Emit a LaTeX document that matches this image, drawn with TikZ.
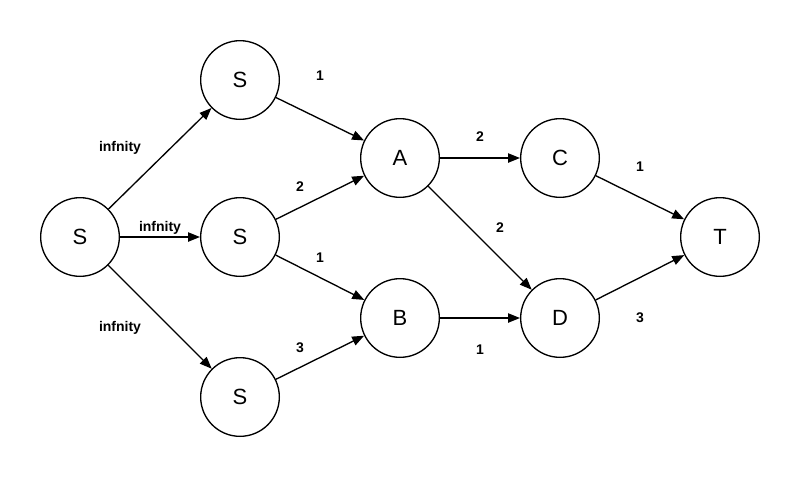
\documentclass[tikz,border=0pt]{standalone}
\usepackage{fontspec}
\setmainfont{Liberation Sans}
\usetikzlibrary{arrows.meta}
\begin{document}
\begin{tikzpicture}[x=0.75pt,y=-0.75pt,
  vert/.style={circle,draw,line width=1pt,minimum size=59pt,inner sep=0pt,font=\fontsize{16.5}{18}\selectfont},
  edge/.style={draw,line width=1pt,-{Triangle[length=9pt,width=7pt]}},
  lab/.style={font=\bfseries\fontsize{10.5}{12}\selectfont}]
\useasboundingbox (0,0) rectangle (800,480);
\node[vert] (s0) at (80,237) {S};
\node[vert] (s1) at (240,80) {S};
\node[vert] (s2) at (240,237) {S};
\node[vert] (s3) at (240,397) {S};
\node[vert] (a) at (400,158) {A};
\node[vert] (b) at (400,318) {B};
\node[vert] (c) at (560,158) {C};
\node[vert] (d) at (560,318) {D};
\node[vert] (t) at (720,237) {T};
\draw[edge] (s0) -- (s1);
\draw[edge] (s0) -- (s2);
\draw[edge] (s0) -- (s3);
\draw[edge] (s1) -- (a);
\draw[edge] (s2) -- (a);
\draw[edge] (s2) -- (b);
\draw[edge] (s3) -- (b);
\draw[edge] (a) -- (c);
\draw[edge] (a) -- (d);
\draw[edge] (b) -- (d);
\draw[edge] (c) -- (t);
\draw[edge] (d) -- (t);
\node[lab] (l1) at (120,148) {infnity};
\node[lab] (l2) at (160,228) {infnity};
\node[lab] (l3) at (120,328) {infnity};
\node[lab] (l4) at (320,76) {1};
\node[lab] (l5) at (300,187) {2};
\node[lab] (l6) at (320,258) {1};
\node[lab] (l7) at (300,348) {3};
\node[lab] (l8) at (480,137) {2};
\node[lab] (l9) at (500,228) {2};
\node[lab] (l10) at (480,350) {1};
\node[lab] (l11) at (640,167) {1};
\node[lab] (l12) at (640,318) {3};
\end{tikzpicture}
\end{document}
